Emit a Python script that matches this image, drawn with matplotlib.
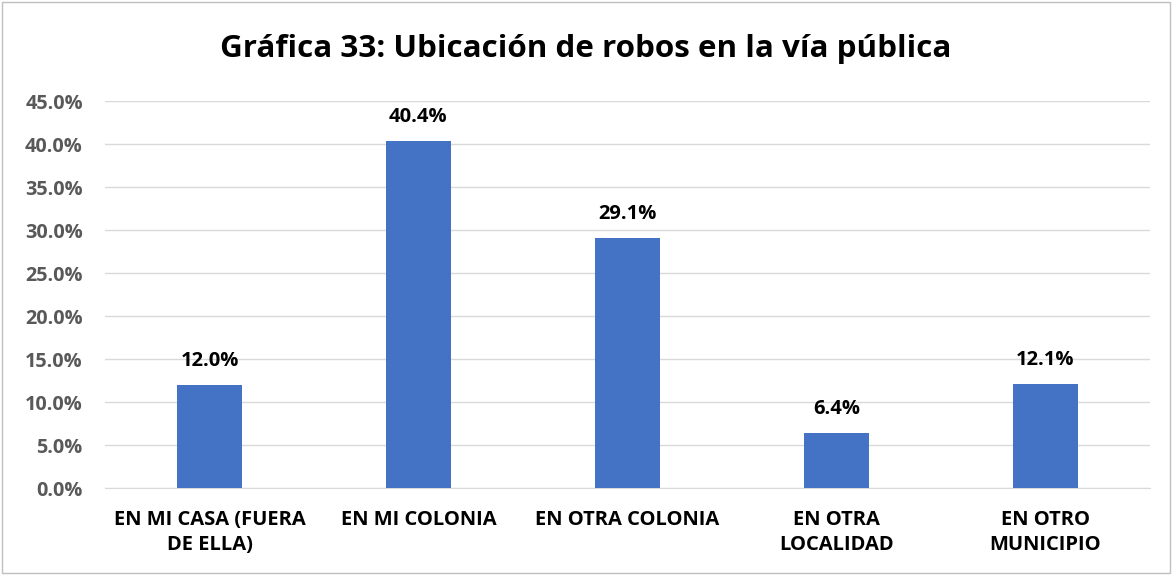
import matplotlib.pyplot as plt
from matplotlib.patches import Rectangle
import numpy as np

plt.rcParams['font.family'] = ['Open Sans', 'DejaVu Sans']

# data
categorias = ['EN MI CASA (FUERA\nDE ELLA)', 'EN MI COLONIA', 'EN OTRA COLONIA',
              'EN OTRA\nLOCALIDAD', 'EN OTRO\nMUNICIPIO']
valores = [12.0, 40.4, 29.1, 6.4, 12.1]
yticks = [0, 5, 10, 15, 20, 25, 30, 35, 40, 45]

fig = plt.figure(figsize=(11.72, 5.75), dpi=100)
ax = fig.add_axes([0.0896, 0.1513, 0.8914, 0.673])

x = np.arange(len(categorias))
ax.bar(x, valores, width=0.31, color='#4472C4', zorder=3)
for xi, v in zip(x, valores):
    ax.text(xi, v + 2.2, f'{v:.1f}%', ha='center', va='baseline',
            fontsize=14.5, fontweight='bold', color='black')

ax.set_xlim(-0.5, len(categorias) - 0.5)
ax.set_ylim(0, 45)
ax.set_yticks(yticks)
ax.set_yticklabels([f'{t:.1f}%' for t in yticks], fontsize=14.3,
                   fontweight='bold', color='#595959')
ax.set_xticks(x)
ax.set_xticklabels(categorias, fontsize=14.5, fontweight='bold', color='black',
                   linespacing=1.3, va='top')
ax.tick_params(axis='x', length=0, pad=16)
ax.tick_params(axis='y', length=0, pad=16)
ax.grid(axis='y', color='#D9D9D9', linewidth=1, zorder=0)
for s in ['top', 'right', 'left']:
    ax.spines[s].set_visible(False)
ax.spines['bottom'].set_color('#D9D9D9')

fig.text(0.5, 0.915, 'Gráfica 33: Ubicación de robos en la vía pública',
         ha='center', va='center', fontsize=22.6, fontweight='bold')

fig.patches.append(Rectangle((0.002, 0.003), 0.996, 0.994, transform=fig.transFigure,
                             fill=False, edgecolor='#BFBFBF', linewidth=1))

fig.savefig('out.png', dpi=100, facecolor='white')
